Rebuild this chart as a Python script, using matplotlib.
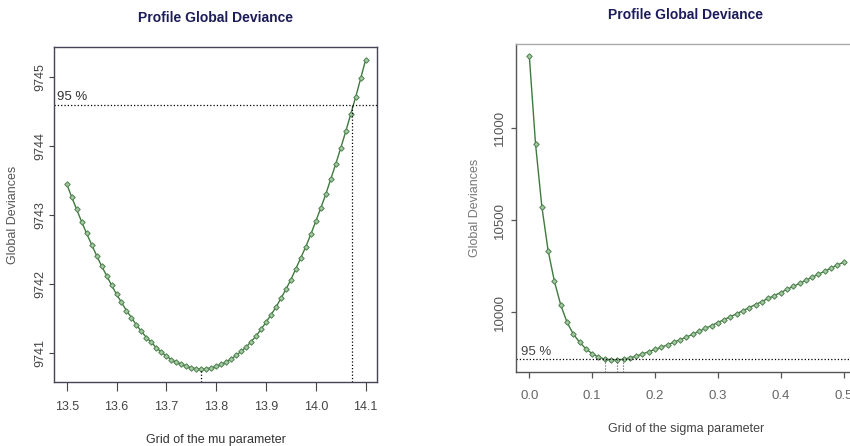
import numpy as np
import matplotlib.pyplot as plt

plt.rcParams['font.family'] = ['Liberation Sans', 'DejaVu Sans']

# profile of mu
mu_grid = [13.50, 13.51, 13.52, 13.53, 13.54, 13.55, 13.56, 13.57, 13.58, 13.59,
           13.60, 13.61, 13.62, 13.63, 13.64, 13.65, 13.66, 13.67, 13.68, 13.69,
           13.70, 13.71, 13.72, 13.73, 13.74, 13.75, 13.76, 13.77, 13.78, 13.79,
           13.80, 13.81, 13.82, 13.83, 13.84, 13.85, 13.86, 13.87, 13.88, 13.89,
           13.90, 13.91, 13.92, 13.93, 13.94, 13.95, 13.96, 13.97, 13.98, 13.99,
           14.00, 14.01, 14.02, 14.03, 14.04, 14.05, 14.06, 14.07, 14.08, 14.09, 14.10]
mu_dev = [9743.45, 9743.26, 9743.08, 9742.90, 9742.73, 9742.57, 9742.41, 9742.26, 9742.12, 9741.98,
          9741.85, 9741.73, 9741.61, 9741.51, 9741.40, 9741.31, 9741.22, 9741.15, 9741.07, 9741.01,
          9740.95, 9740.90, 9740.86, 9740.83, 9740.80, 9740.78, 9740.77, 9740.76, 9740.77, 9740.78,
          9740.80, 9740.83, 9740.86, 9740.91, 9740.96, 9741.02, 9741.08, 9741.16, 9741.24, 9741.34,
          9741.44, 9741.55, 9741.66, 9741.79, 9741.92, 9742.06, 9742.22, 9742.38, 9742.54, 9742.72,
          9742.91, 9743.10, 9743.30, 9743.52, 9743.74, 9743.97, 9744.21, 9744.46, 9744.71, 9744.98, 9745.25]
mu_ci = 9744.60
mu_min = 13.77
mu_upper = 14.0735

# profile of sigma
sigma_grid = [0.00, 0.01, 0.02, 0.03, 0.04, 0.05, 0.06, 0.07, 0.08, 0.09,
              0.10, 0.11, 0.12, 0.13, 0.14, 0.15, 0.16, 0.17, 0.18, 0.19,
              0.20, 0.21, 0.22, 0.23, 0.24, 0.25, 0.26, 0.27, 0.28, 0.29,
              0.30, 0.31, 0.32, 0.33, 0.34, 0.35, 0.36, 0.37, 0.38, 0.39,
              0.40, 0.41, 0.42, 0.43, 0.44, 0.45, 0.46, 0.47, 0.48, 0.49, 0.50]
sigma_dev = [11395, 10913, 10574, 10335, 10168, 10040, 9946, 9882, 9837, 9802,
             9775, 9756, 9746, 9742, 9741, 9745, 9752, 9762, 9773, 9786,
             9798, 9810, 9823, 9837, 9851, 9865, 9880, 9896, 9912, 9928,
             9944, 9960, 9976, 9992, 10009, 10025, 10042, 10058, 10075, 10091,
             10107, 10124, 10140, 10157, 10173, 10190, 10206, 10223, 10239, 10256, 10272]
sigma_ci = 9744.84
sigma_marks = [0.1204, 0.1390, 0.1495]

line_col = '#3d7a3d'
title_col = '#1c1c5a'

fig = plt.figure(figsize=(8.5, 4.46), dpi=100)

def curve(ax, x, y):
    ax.plot(x, y, color=line_col, lw=1.0, marker='D', markersize=2.8,
            markerfacecolor='#a3c9a3', markeredgecolor='#4e7f4e', markeredgewidth=0.7)

# left panel
ax1 = fig.add_axes([0.0635, 0.1435, 0.380, 0.751])
curve(ax1, mu_grid, mu_dev)
ax1.set_xlim(13.4745, 14.1227)
ax1.set_ylim(9740.575, 9745.435)
ax1.axhline(mu_ci, color='black', ls=':', lw=0.9)
ax1.plot([mu_min, mu_min], [9740.575, min(mu_dev)], color='black', ls=':', lw=0.9)
ax1.plot([mu_upper, mu_upper], [9740.575, mu_ci], color='black', ls=':', lw=0.9)
ax1.text(13.481, mu_ci + 0.03, '95 %', fontsize=9.5, color='#333333', va='bottom')
ax1.set_xticks([13.5, 13.6, 13.7, 13.8, 13.9, 14.0, 14.1])
ax1.set_xticklabels(['13.5', '13.6', '13.7', '13.8', '13.9', '14.0', '14.1'])
ax1.set_yticks([9741, 9742, 9743, 9744, 9745])
ax1.tick_params(axis='x', length=6.5, width=0.8, color='#444444', labelsize=9, labelcolor='#444444', pad=7.5)
ax1.tick_params(axis='y', length=3.6, width=0.8, color='#444444', labelsize=9, labelcolor='#444444',
                labelrotation=90, pad=2)
for lab in ax1.get_yticklabels():
    lab.set_va('center')
for s in ax1.spines.values():
    s.set_color('#444455')
    s.set_linewidth(1.0)
ax1.set_title('Profile Global Deviance', fontsize=10, fontweight='bold', color=title_col, pad=18)
ax1.set_xlabel('Grid of the mu parameter', fontsize=9, color='#333333', labelpad=15)
ax1.set_ylabel('Global Deviances', fontsize=9, color='#555555', labelpad=11)

# right panel
ax2 = fig.add_axes([0.607, 0.1666, 0.400, 0.734])
curve(ax2, sigma_grid, sigma_dev)
ax2.set_xlim(-0.0212, 0.5198)
ax2.set_ylim(9677, 11456)
ax2.axhline(sigma_ci, color='black', ls=':', lw=0.9)
for m in sigma_marks:
    ax2.plot([m, m], [9677, sigma_ci], color='#555555', ls=':', lw=0.8)
ax2.text(-0.013, sigma_ci + 8, '95 %', fontsize=9.5, color='#444444', va='bottom')
ax2.set_xticks([0.0, 0.1, 0.2, 0.3, 0.4, 0.5])
ax2.set_xticklabels(['0.0', '0.1', '0.2', '0.3', '0.4', '0.5'])
ax2.set_yticks([10000, 10500, 11000])
ax2.tick_params(axis='x', length=4.5, width=0.9, color='#555555', labelsize=9.5, labelcolor='#666666', pad=9)
ax2.tick_params(axis='y', length=3.5, width=0.9, color='#555555', labelsize=9.5, labelcolor='#555555',
                labelrotation=90, pad=4)
for lab in ax2.get_yticklabels():
    lab.set_va('center')
for s in ax2.spines.values():
    s.set_color('#555555')
    s.set_linewidth(1.0)
ax2.spines['top'].set_color('#aaaaaa')
ax2.set_title('Profile Global Deviance', fontsize=10, fontweight='bold', color=title_col, pad=18)
ax2.set_xlabel('Grid of the sigma parameter', fontsize=9, color='#444444', labelpad=14.5)
ax2.set_ylabel('Global Deviances', fontsize=9, color='#777777', labelpad=9)

fig.savefig('out.png', dpi=100)
